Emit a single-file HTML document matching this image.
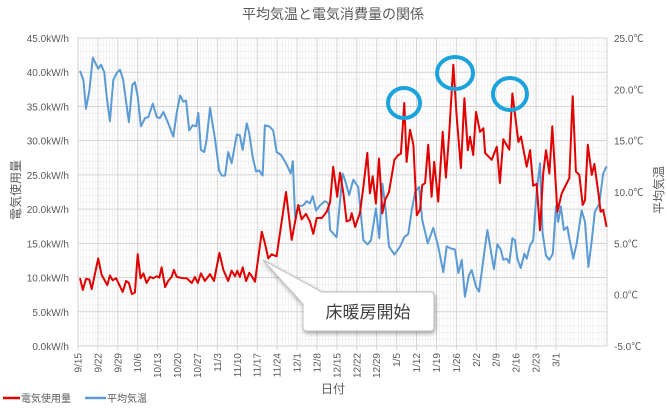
<!DOCTYPE html>
<html><head><meta charset="utf-8">
<style>
html,body{margin:0;padding:0;background:#fff;}
body{width:667px;height:413px;overflow:hidden;font-family:"Liberation Sans","Noto Sans CJK JP",sans-serif;}
svg text{font-family:"Liberation Sans","Noto Sans CJK JP",sans-serif;}
</style></head>
<body>
<svg id="chart" width="667" height="413" viewBox="0 0 667 413" xmlns="http://www.w3.org/2000/svg">
<defs>
<filter id="sh" x="-20%" y="-20%" width="140%" height="160%"><feDropShadow dx="1" dy="2" stdDeviation="2" flood-color="#000" flood-opacity="0.35"/></filter>
</defs>
<rect x="0" y="0" width="667" height="413" fill="#fff"/>
<text x="333" y="19" text-anchor="middle" font-size="14" fill="#595959">平均気温と電気消費量の関係</text>
<g id="grid"></g>
<g id="axes"></g>
<g id="series"></g>
<text x="0" y="0" transform="translate(20,190) rotate(-90)" text-anchor="middle" font-size="12" fill="#595959">電気使用量</text>
<text x="0" y="0" transform="translate(663,190) rotate(-90)" text-anchor="middle" font-size="12" fill="#595959">平均気温</text>
<text x="333" y="393" text-anchor="middle" font-size="12" fill="#595959">日付</text>
<g>
<g><line x1="3" y1="398" x2="20" y2="398" stroke="#e00000" stroke-width="2.5"/><text x="21" y="402" font-size="10" fill="#595959">電気使用量</text></g>
<g><line x1="85" y1="398" x2="106" y2="398" stroke="#5b9bd5" stroke-width="2.5"/><text x="107" y="402" font-size="10" fill="#595959">平均気温</text></g>
</g>
<g filter="url(#sh)">
<path d="M263,260 L322,292 L431,292 Q434,292 434,296 L434,327 Q434,331 430,331 L307,331 Q303,331 303,327 L303,304 Z" fill="#fff" stroke="#bfbfbf" stroke-width="1"/>
</g>
<text x="368" y="318" text-anchor="middle" font-size="17" fill="#404040">床暖房開始</text>
<g fill="none" stroke="#1aa3dc" stroke-width="4">
<ellipse cx="404" cy="103" rx="16" ry="15"/>
<ellipse cx="455" cy="73" rx="18" ry="16"/>
<ellipse cx="510" cy="94" rx="17" ry="16"/>
</g>
</svg>
<script>
const leftTicks = ["0.0kW/h","5.0kW/h","10.0kW/h","15.0kW/h","20.0kW/h","25.0kW/h","30.0kW/h","35.0kW/h","40.0kW/h","45.0kW/h"];
const rightTicks = ["-5.0℃","0.0℃","5.0℃","10.0℃","15.0℃","20.0℃","25.0℃"];
const dateLabels = ["9/15","9/22","9/29","10/6","10/13","10/20","10/27","11/3","11/10","11/17","11/24","12/1","12/8","12/15","12/22","12/29","1/5","1/12","1/19","1/26","2/2","2/9","2/16","2/23","3/1"];
const elecDays = [0.7,1.7,2.8,4.0,4.8,7.1,8.3,10.3,11.2,12.2,13.4,15.7,16.9,17.9,18.9,20.0,21.0,22.0,23.0,24.1,25.3,26.5,27.7,28.6,29.4,30.6,31.7,32.9,33.7,34.7,35.9,37.0,38.2,40.0,41.1,42.1,43.2,44.6,46.4,47.8,49.7,51.1,52.8,54.0,55.2,56.0,56.9,57.9,59.1,60.2,61.1,62.2,64.6,65.7,66.9,68.1,69.8,73.1,75.1,77.4,78.6,80.1,81.5,82.7,83.9,85.7,87.4,88.6,89.7,91.1,92.1,93.3,94.4,95.6,96.2,97.4,99.1,100.3,101.7,102.6,103.6,104.7,105.8,107.0,107.9,109.3,111.2,112.6,113.5,114.7,115.5,116.7,117.9,119.1,120.2,121.0,122.0,123.1,124.3,125.2,126.6,128.2,129.3,130.4,131.9,133.1,134.6,135.8,137.0,137.8,138.9,139.9,141.3,142.5,143.1,145.4,147.2,148.3,149.5,151.6,152.7,154.8,155.7,157.7,158.9,160.0,161.2,162.4,163.5,164.5,165.7,166.7,168.5,170.0,171.2,172.7,173.9,175.0,176.2,177.4,178.2,179.2,180.6,181.5,182.9,183.7,184.6,185.8];
const elecValues = [9.9,8.2,9.8,9.7,8.3,12.8,10.4,8.9,10.3,9.6,9.9,7.9,9.5,9.2,7.6,7.8,13.4,9.9,10.6,9.2,10.1,9.9,10.2,10.0,11.5,8.6,9.5,10.1,11.1,10.1,10.0,9.9,9.9,9.2,10.1,9.2,10.6,9.5,10.5,9.5,13.6,11.1,9.5,11.0,10.2,11.0,10.1,11.5,9.5,10.7,10.2,9.4,16.7,15.0,12.8,13.4,13.1,22.5,15.5,20.6,18.5,19.3,18.2,16.4,18.7,18.7,19.6,21.0,26.2,21.8,25.3,22.3,18.2,18.4,19.4,17.4,19.4,23.3,28.2,22.3,24.8,20.8,27.4,19.4,21.3,22.5,27.2,27.9,28.1,35.5,26.9,31.6,29.4,19.1,19.9,23.5,23.8,29.4,21.8,26.9,21.1,31.3,24.6,30.6,41.1,33.5,26.0,36.2,28.6,30.6,27.9,34.2,31.3,31.8,28.2,27.2,29.1,23.8,30.2,28.7,36.9,29.8,30.6,26.2,28.6,23.4,23.7,16.9,25.2,28.6,25.2,32.1,19.6,22.3,23.3,24.5,36.5,25.5,25.0,20.6,21.3,29.4,25.0,26.6,22.3,19.6,19.9,17.4];
const tempDays = [0.7,1.9,2.8,4.0,5.2,7.1,8.1,9.2,10.1,11.2,12.4,13.6,14.8,15.9,17.9,19.1,20.0,21.0,22.1,23.6,24.7,26.3,27.7,28.8,30.0,31.7,33.5,34.7,35.9,37.0,38.0,39.1,40.3,41.5,42.3,43.2,44.4,45.2,46.4,48.2,49.6,50.5,51.7,52.8,54.0,55.8,56.9,57.9,59.3,60.2,61.4,62.6,63.7,64.9,65.7,67.2,68.6,69.8,71.4,73.1,74.8,75.5,76.3,77.4,79.2,80.4,81.5,82.5,83.7,85.1,86.8,88.0,88.6,90.9,93.0,93.8,95.3,96.8,98.5,100.3,101.8,103.0,104.7,105.9,107.0,107.9,109.3,111.2,113.2,114.7,116.1,117.3,118.5,119.9,121.0,122.9,124.9,126.6,128.4,129.6,131.1,132.5,133.7,134.9,136.0,137.4,138.4,139.9,141.0,143.1,143.9,146.2,147.4,148.6,149.5,150.7,151.6,152.7,153.6,154.4,155.6,156.9,157.7,158.9,160.0,161.2,162.4,163.3,164.5,165.7,166.9,168.0,168.8,169.7,170.8,172.0,172.9,174.1,175.3,177.0,178.2,179.4,180.6,181.7,183.2,184.6,185.8];
const tempValues = [21.8,20.9,18.1,19.9,23.1,22.0,22.4,21.7,19.3,16.9,20.9,21.6,21.9,20.9,16.8,20.4,20.7,19.3,16.4,17.2,17.3,18.6,17.3,17.2,17.8,16.7,15.4,17.7,19.4,18.8,18.9,16.0,16.5,16.4,17.7,14.1,13.9,15.1,18.2,15.1,12.1,11.6,11.6,13.9,12.8,15.6,15.5,14.1,16.7,15.7,13.4,12.0,12.1,11.6,16.5,16.4,16.0,13.9,13.6,12.8,11.8,13.0,7.6,8.6,8.7,9.1,8.9,9.6,8.2,8.7,9.1,8.9,6.3,5.6,11.8,11.2,9.7,11.2,10.5,5.3,4.9,5.3,8.4,5.5,10.8,8.9,4.7,3.9,4.7,5.6,5.9,8.2,10.0,10.5,7.3,5.0,6.5,4.7,2.2,4.7,4.5,4.4,2.1,3.4,-0.2,1.9,2.4,0.8,0.3,4.7,6.3,2.5,4.9,4.4,3.4,3.5,3.1,5.5,5.3,3.5,2.6,4.0,3.5,4.8,5.3,10.0,12.8,6.0,3.8,3.4,4.0,8.6,7.1,8.6,6.3,6.6,5.2,3.5,5.0,8.2,7.1,2.7,5.3,8.1,8.8,11.8,12.5];

const NS = "http://www.w3.org/2000/svg";
const PL = 78, PR = 607, PT = 38, PB = 346, DAYPX = 2.845, NDAYS = 186;
const xAt = d => PL + d * DAYPX;
const yElec = v => PB - (v / 45) * (PB - PT);
const yTemp = t => PB - ((t + 5) / 30) * (PB - PT);
function mk(tag, attrs, parent) {
  const e = document.createElementNS(NS, tag);
  for (const k in attrs) e.setAttribute(k, attrs[k]);
  parent.appendChild(e);
  return e;
}
const grid = document.getElementById('grid');
const axes = document.getElementById('axes');
const series = document.getElementById('series');
for (let v = 0; v <= 45; v += 1) {
  if (v % 5 === 0) continue;
  const l = mk('line', {x1: PL, x2: PR, y1: yElec(v), y2: yElec(v), stroke: '#ececec', 'stroke-width': 0.6}, grid);
  
  
}
for (let d = 1; d <= NDAYS; d++) {
  if (d % 7 === 0) continue;
  const l = mk('line', {x1: xAt(d), x2: xAt(d), y1: PT, y2: PB, stroke: '#ececec', 'stroke-width': 0.6}, grid);
  
  
}
leftTicks.forEach((t, i) => {
  const y = yElec(i * 5);
  const l = mk('line', {x1: PL, x2: PR, y1: y, y2: y, stroke: '#d4d4d4', 'stroke-width': 1}, grid);
  
  
  const tx = mk('text', {x: 69, y: y + 4, 'text-anchor': 'end', 'font-size': 10, fill: '#595959'}, axes);
  tx.textContent = t;
  
  
});
rightTicks.forEach((t, i) => {
  const y = yTemp(-5 + i * 5);
  const tx = mk('text', {x: 614, y: y + 4, 'font-size': 10, fill: '#595959'}, axes);
  tx.textContent = t;
  
  
});
dateLabels.forEach((t, i) => {
  const x = xAt(i * 7);
  const l = mk('line', {x1: x, x2: x, y1: PT, y2: PB + 4, stroke: '#d4d4d4', 'stroke-width': 1}, grid);
  
  
  const tx = mk('text', {x: 0, y: 0, transform: `translate(${x + 3.5},${PB + 7}) rotate(-90)`, 'text-anchor': 'end', 'font-size': 10, fill: '#595959'}, axes);
  tx.textContent = t;
  
  
});
const border = mk('rect', {x: PL, y: PT, width: PR - PL, height: PB - PT, fill: 'none', stroke: '#d0d0d0', 'stroke-width': 1}, grid);


const tp = mk('polyline', {points: tempDays.map((d, i) => xAt(d).toFixed(1) + ',' + yTemp(tempValues[i]).toFixed(1)).join(' '), fill: 'none', stroke: '#5b9bd5', 'stroke-width': 2, 'stroke-linejoin': 'round'}, series);


const ep = mk('polyline', {points: elecDays.map((d, i) => xAt(d).toFixed(1) + ',' + yElec(elecValues[i]).toFixed(1)).join(' '), fill: 'none', stroke: '#e00000', 'stroke-width': 2, 'stroke-linejoin': 'round'}, series);


</script>
</body></html>
